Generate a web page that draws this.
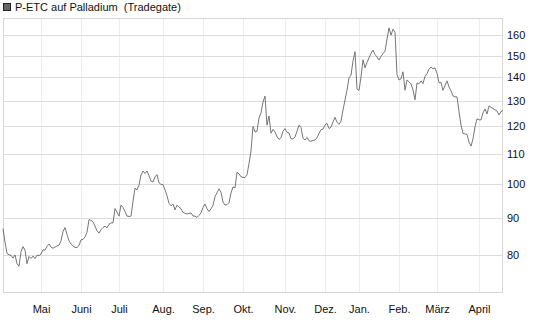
<!DOCTYPE html>
<html>
<head>
<meta charset="utf-8">
<script src="https://cdn.jsdelivr.net/npm/d3@7"></script>
<style>
  body { margin: 0; background: #fff; }
  svg { display: block; font-family: 'Liberation Sans', Arial, sans-serif; }
</style>
</head>
<body>
<div class="chart"></div>
<script>
const seriesName = 'P-ETC auf Palladium  (Tradegate)';

// daily closes, one per trading day
const prices = [
  87.0, 83.4, 80.5, 80.1, 80.0, 79.3, 80.1, 77.9, 77.3, 80.9,
  82.2, 81.3, 77.9, 79.7, 79.2, 79.8, 79.2, 80.0, 79.9, 80.3,
  81.4, 81.3, 82.3, 82.9, 82.1, 81.8, 82.1, 82.4, 82.6, 83.7,
  86.2, 87.3, 85.4, 83.7, 82.9, 82.4, 82.0, 82.0, 82.5, 84.0,
  84.1, 84.8, 86.0, 89.5, 89.3, 88.9, 87.7, 86.4, 85.8, 86.7,
  87.3, 87.7, 87.2, 88.2, 88.6, 88.6, 92.7, 91.6, 90.5, 93.7,
  93.0, 91.8, 90.5, 90.4, 90.5, 94.8, 98.8, 98.3, 99.7, 103.0,
  104.3, 103.5, 104.3, 102.8, 101.0, 100.8, 102.4, 103.1, 100.5, 100.0,
  99.9, 98.3, 96.5, 94.2, 93.5, 94.0, 92.3, 93.7, 93.1, 92.6,
  91.6, 91.3, 91.1, 91.3, 91.4, 90.5, 90.5, 90.1, 90.7, 91.4,
  93.0, 94.0, 92.6, 91.8, 92.6, 93.6, 96.2, 97.4, 98.6, 97.6,
  94.6, 93.7, 93.8, 94.4, 97.3, 99.2, 98.9, 103.9, 103.4, 102.4,
  102.2, 102.2, 103.1, 106.8, 111.1, 120.0, 117.9, 118.2, 123.3, 125.2,
  129.6, 132.0, 120.5, 124.0, 117.5, 118.9, 117.9, 116.2, 115.2, 115.8,
  118.2, 119.2, 117.7, 117.6, 115.4, 115.4, 116.1, 118.2, 120.5, 119.6,
  115.6, 115.0, 115.9, 114.7, 114.5, 114.8, 115.0, 115.8, 117.4, 118.8,
  119.0, 120.5, 121.2, 119.2, 119.7, 121.7, 123.5, 121.6, 120.8, 122.0,
  126.3, 130.4, 134.5, 139.8, 141.0, 147.5, 151.8, 134.9, 134.4, 140.2,
  148.0, 144.3, 146.8, 148.9, 151.0, 152.6, 150.5, 149.3, 147.9, 149.6,
  150.9, 152.1, 158.0, 163.6, 159.9, 163.0, 161.4, 141.2, 138.9, 139.4,
  142.5, 134.5, 138.9, 138.1, 137.2, 134.6, 130.5, 137.6, 137.2, 138.5,
  137.3, 140.5, 141.7, 143.7, 144.7, 143.9, 144.3, 141.8, 137.7, 137.8,
  134.4, 136.5, 138.5, 135.9, 134.2, 132.1, 131.7, 131.7, 125.8, 120.5,
  117.4, 117.2, 117.0, 114.2, 112.8, 115.4, 119.9, 122.9, 122.5, 122.5,
  125.2, 126.8, 124.8, 128.0, 127.5, 127.0, 126.4, 126.0, 124.4, 125.8,
  126.1
];

// index of the first trading day of each month
const monthStarts = [19, 39, 58, 80, 100, 120, 141, 161, 178, 198, 217, 238];
const monthLabels = ['Mai', 'Juni', 'Juli', 'Aug.', 'Sep.', 'Okt.', 'Nov.', 'Dez.', 'Jan.', 'Feb.', 'März', 'April'];
const yTicks = [80, 90, 100, 110, 120, 130, 140, 150, 160];

const width = 545;
const height = 327;
const plot = { left: 3, right: 503, top: 18, bottom: 293 };

const svg = d3
  .select('.chart')
  .append('svg')
  .attr('width', width)
  .attr('height', height);

const xScale = d3
  .scaleLinear()
  .domain([0, prices.length - 1])
  .range([plot.left, plot.right]);

const yScale = d3
  .scaleLog()
  .domain([71.05, 168.8])
  .range([plot.bottom, plot.top]);

// vertical month grid
const xGrid = d3
  .axisBottom(xScale)
  .tickValues(monthStarts)
  .tickSize(-(plot.bottom - plot.top))
  .tickFormat((d, i) => monthLabels[i]);

const xAxisGroup = svg
  .append('g')
  .attr('transform', `translate(0, ${plot.bottom})`)
  .call(xGrid);
xAxisGroup.select('.domain').remove();
xAxisGroup.selectAll('line').attr('stroke', '#ececec').attr('shape-rendering', 'crispEdges');
xAxisGroup
  .selectAll('text')
  .attr('y', 12)
  .attr('fill', '#111')
  .style('font-size', '11px')
  .style('font-family', "'Liberation Sans', Arial, sans-serif");

// horizontal value grid + labels on the right
const yAxis = d3
  .axisRight(yScale)
  .tickValues(yTicks)
  .tickSize(-(plot.right - plot.left))
  .tickFormat(d3.format('d'));

const yAxisGroup = svg
  .append('g')
  .attr('transform', `translate(${plot.right}, 0)`)
  .call(yAxis);
yAxisGroup.select('.domain').remove();
yAxisGroup.selectAll('line').attr('stroke', '#dcdcdc').attr('shape-rendering', 'crispEdges');
yAxisGroup
  .selectAll('text')
  .attr('x', 4)
  .attr('fill', '#111')
  .style('font-size', '11px')
  .style('font-family', "'Liberation Sans', Arial, sans-serif");

// frame
svg
  .append('rect')
  .attr('x', plot.left + 0.5)
  .attr('y', plot.top + 0.5)
  .attr('width', plot.right - plot.left - 1)
  .attr('height', plot.bottom - plot.top - 1)
  .attr('fill', 'none')
  .attr('stroke', '#d6d6d6');

const line = d3
  .line()
  .x((d, i) => xScale(i))
  .y((d) => yScale(d));

svg
  .append('path')
  .datum(prices)
  .attr('d', line)
  .attr('fill', 'none')
  .attr('stroke', '#666')
  .attr('stroke-width', 0.9);

// legend
svg
  .append('rect')
  .attr('x', 3.5)
  .attr('y', 3.5)
  .attr('width', 7)
  .attr('height', 7)
  .attr('fill', '#666')
  .attr('stroke', '#222');

svg
  .append('text')
  .attr('x', 15)
  .attr('y', 11)
  .attr('fill', '#111')
  .style('font-size', '11px')
  .style('white-space', 'pre')
  .text(seriesName);
</script>
</body>
</html>
